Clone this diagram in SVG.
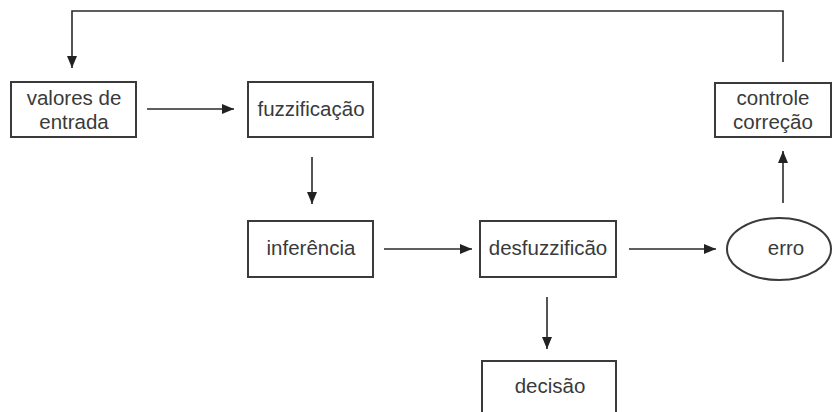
<svg xmlns="http://www.w3.org/2000/svg" width="833" height="412" viewBox="0 0 833 412">
<style>
.box{fill:#fff;stroke:#3a3a3a;stroke-width:2}
.t{font-family:"Liberation Sans",Arial,sans-serif;font-size:20.5px;fill:#3a3a3a;text-anchor:middle}
.c{fill:none;stroke:#2a2a2a;stroke-width:1.6}
</style>
<defs>
<marker id="ah" markerWidth="12" markerHeight="10" refX="12" refY="5" orient="auto" markerUnits="userSpaceOnUse">
<path d="M0,0 L12,5 L0,10 Z" fill="#222"/>
</marker>
</defs>
<rect width="833" height="412" fill="#fff"/>
<g id="connectors">
<path class="c" d="M783,62 V11 H72 V68" marker-end="url(#ah)"/>
<path class="c" d="M147,109 H234" marker-end="url(#ah)"/>
<path class="c" d="M312,157 V204" marker-end="url(#ah)"/>
<path class="c" d="M384,249 H472" marker-end="url(#ah)"/>
<path class="c" d="M629,249 H716" marker-end="url(#ah)"/>
<path class="c" d="M783,203 V151" marker-end="url(#ah)"/>
<path class="c" d="M547,297 V349" marker-end="url(#ah)"/>
</g>
<g id="valores">
<rect class="box" x="11" y="82" width="125" height="55"/>
<text class="t" x="74" y="105">valores de</text>
<text class="t" x="74" y="129">entrada</text>
</g>
<g id="fuzzificacao">
<rect class="box" x="248" y="82" width="125" height="55"/>
<text class="t" x="311" y="116">fuzzificação</text>
</g>
<g id="inferencia">
<rect class="box" x="248" y="221" width="125" height="56"/>
<text class="t" x="311" y="255">inferência</text>
</g>
<g id="desfuzzificao">
<rect class="box" x="480" y="221" width="136" height="56"/>
<text class="t" x="548" y="255">desfuzzificão</text>
</g>
<g id="erro">
<ellipse class="box" cx="779" cy="249" rx="52" ry="31"/>
<text class="t" x="786" y="255">erro</text>
</g>
<g id="controle">
<rect class="box" x="715" y="83" width="116" height="54"/>
<text class="t" x="773" y="105">controle</text>
<text class="t" x="773" y="129">correção</text>
</g>
<g id="decisao">
<rect class="box" x="482" y="361" width="134" height="60"/>
<text class="t" x="550" y="393">decisão</text>
</g>
</svg>
